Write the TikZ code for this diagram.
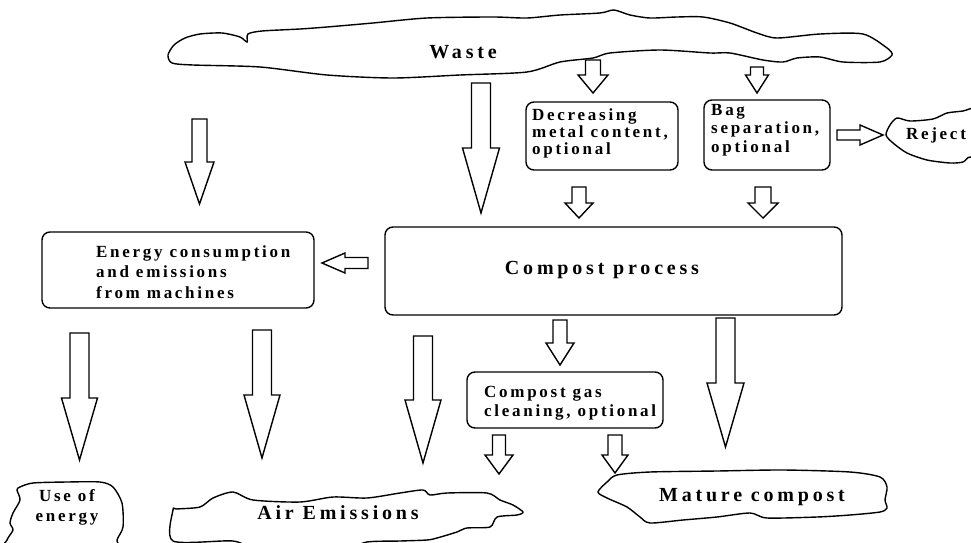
\documentclass[tikz,border=0pt]{standalone}
\usepackage{fontspec}
\setmainfont{Liberation Serif}
\newfontfamily\smf{Liberation Serif}[LetterSpace=16]
\newfontfamily\lgf{Liberation Serif}[LetterSpace=19]
\newcommand\darrow[6]{% x, ytop, yhead, ytip, shaft half, head half
  \draw[barrow] (#1-#5,#2) -- (#1+#5,#2) -- (#1+#5,#3) -- (#1+#6,#3) -- (#1,#4) -- (#1-#6,#3) -- (#1-#5,#3) -- cycle;}
\newcommand\harrow[6]{% y, xtail, xhead, xtip, shaft half, head half
  \draw[barrow] (#2,#1-#5) -- (#2,#1+#5) -- (#3,#1+#5) -- (#3,#1+#6) -- (#4,#1) -- (#3,#1-#6) -- (#3,#1-#5) -- cycle;}
\tikzset{
  barrow/.style={draw=black, line width=1.4pt, line join=miter, fill=white},
  procbox/.style={draw=black, line width=1.4pt, rounded corners=8pt, inner sep=0pt},
  cloud/.style={draw=black, line width=1.4pt, fill=white},
  smtext/.style={font=\smf\bfseries\fontsize{17}{17}\selectfont, align=left, inner sep=0pt, anchor=west},
  lgtext/.style={font=\lgf\bfseries\fontsize{20}{22}\selectfont, inner sep=0pt},
}
\begin{document}
\begin{tikzpicture}[x=1pt,y=-1pt]
\useasboundingbox (0,0) rectangle (971,543);
\fill[white] (0,0) rectangle (971,543);

% clouds
\draw[cloud] plot[smooth cycle, tension=0.45] coordinates {(168,55) (174,45) (185,38) (200,34) (222,33) (240,37) (247,42) (248,34) (262,31) (300,29) (327,27) (373,23) (427,18) (493,17) (527,18) (560,15) (600,13) (614,10) (630,15) (650,18) (677,17) (703,17) (730,23) (757,33) (777,38) (820,34) (863,34) (887,48) (892,55) (880,62) (843,62) (820,57) (797,58) (783,62) (763,60) (730,53) (710,53) (660,50) (610,53) (593,58) (560,62) (527,72) (460,75) (393,78) (327,75) (260,67) (193,65) (172,63)};
\node[lgtext] (waste) at (463,52) {Waste};

\draw[cloud] plot[smooth cycle, tension=0.45] coordinates {(886,135) (890,125) (897,118) (910,121) (933,119) (947,113) (963,111) (975,108) (990,115) (990,160) (970,157) (963,162) (950,163) (927,160) (907,153) (893,143)};
\node[font=\smf\bfseries\fontsize{17}{18}\selectfont, inner sep=0pt] (reject) at (936,135) {Reject};

\draw[cloud] plot[smooth cycle, tension=0.45] coordinates {(7,540) (13,530) (10,523) (13,513) (20,500) (17,490) (20,487) (33,483) (67,482) (100,482) (113,487) (122,503) (123,527) (117,540) (115,555) (5,555)};
\node[smtext, anchor=center, align=center, font=\smf\bfseries\fontsize{17}{20}\selectfont] (use) at (67,507) {Use of\\energy};

\draw[cloud] plot[smooth cycle, tension=0.45] coordinates {(173,510) (177,509) (200,507) (213,498) (233,492) (253,500) (300,502) (333,497) (367,498) (400,493) (423,490) (430,495) (447,493) (487,493) (500,500) (513,505) (523,512) (517,515) (497,517) (490,527) (467,528) (457,532) (437,538) (427,540) (400,541) (367,542) (340,550) (260,550) (233,541) (173,541)};
\node[lgtext] (air) at (338,513) {Air Emissions};

\draw[cloud] plot[smooth cycle, tension=0.45] coordinates {(598,492) (607,482) (617,475) (650,472) (717,471) (783,470) (850,472) (880,477) (887,487) (885,500) (887,508) (880,512) (850,515) (817,517) (767,518) (750,513) (717,517) (683,520) (650,523) (640,517) (627,507) (607,498)};
\node[lgtext] (mature) at (752,497) {Mature compost};

% boxes
\node[procbox, minimum width=152pt, minimum height=68pt] (dec) at (602,136) {};
\node[smtext] (dectxt) at (532,133) {Decreasing\\metal content,\\optional};

\node[procbox, minimum width=126pt, minimum height=70pt] (bag) at (767,135) {};
\node[smtext, font=\smf\bfseries\fontsize{17}{18.5}\selectfont] (bagtxt) at (711,130) {Bag\\separation,\\optional};

\node[procbox, minimum width=272pt, minimum height=76pt] (energy) at (178,270) {};
\node[smtext, font=\smf\bfseries\fontsize{17}{20.5}\selectfont] (entxt) at (96,272) {Energy consumption\\and emissions\\from machines};

\node[procbox, minimum width=457pt, minimum height=88pt] (compost) at (613.5,271) {};
\node[lgtext] (comptxt) at (602,270) {Compost process};

\node[procbox, minimum width=196pt, minimum height=56pt] (gas) at (565,400) {};
\node[smtext, font=\smf\bfseries\fontsize{17}{19}\selectfont] (gastxt) at (484,403) {Compost gas\\cleaning, optional};

% block arrows
\darrow{199.5}{119}{162}{204}{7.5}{14.5}
\darrow{481}{83}{148}{213}{9.5}{18.5}
\darrow{593}{60}{75}{93}{7.5}{15}
\darrow{757}{67}{75}{93}{6.5}{11.5}
\darrow{579}{187}{203}{218}{7}{14}
\darrow{763}{187}{203}{218}{8}{15}
\harrow{135}{837}{860}{883}{5}{10}
\harrow{263}{368}{345}{322}{5.5}{10}
\darrow{560}{320}{343}{365}{7}{14}
\darrow{725.5}{318}{383}{447}{9.5}{18.5}
\darrow{79.5}{333}{398}{460}{9.5}{18}
\darrow{262}{330}{395}{458}{9.5}{18}
\darrow{423}{336}{400}{463}{9.5}{18}
\darrow{499}{435}{455}{474}{6.5}{14}
\darrow{615}{435}{455}{473}{7}{13}
\end{tikzpicture}
\end{document}
